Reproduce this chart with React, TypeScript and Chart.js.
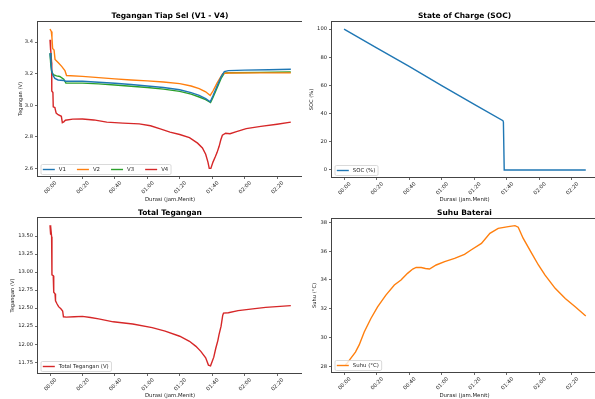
import React, { useEffect, useRef } from 'react';
import { Chart, registerables } from 'chart.js';
Chart.register(...registerables);

const FONT = "'DejaVu Sans', sans-serif";

// X axis: minutes since start, labelled as jam:menit
const xTickMinutes = [0, 20, 40, 60, 80, 100, 120, 140];
const xTickLabels = ['00:00', '00:20', '00:40', '01:00', '01:20', '01:40', '02:00', '02:20'];

// Cell voltages
const v1Time = [0, 0.5, 1.0, 1.8, 3, 5, 8.5, 9.5, 20, 30, 40, 50, 60, 70, 80, 87, 92, 96, 98.8, 100.5, 103, 105.5, 107.5, 110, 120, 135, 148.5];
const v1Vals = [3.33, 3.28, 3.22, 3.19, 3.17, 3.16, 3.157, 3.152, 3.152, 3.146, 3.139, 3.131, 3.122, 3.112, 3.098, 3.08, 3.062, 3.042, 3.022, 3.06, 3.12, 3.18, 3.213, 3.219, 3.222, 3.225, 3.228];

const v2Time = [0, 0.8, 1.2, 1.6, 2.5, 3.1, 5, 7.2, 9.2, 10.2, 20, 30, 40, 50, 60, 70, 80, 87, 92, 96, 98.8, 100.5, 103, 106.5, 110, 130, 148.5];
const v2Vals = [3.483, 3.467, 3.43, 3.36, 3.35, 3.29, 3.27, 3.246, 3.22, 3.188, 3.183, 3.175, 3.167, 3.16, 3.154, 3.147, 3.137, 3.122, 3.105, 3.085, 3.062, 3.09, 3.14, 3.2, 3.204, 3.205, 3.205];

const v3Time = [0, 0.5, 1.0, 2.0, 4, 6, 8.5, 9.8, 20, 30, 40, 50, 60, 70, 80, 87, 92, 96, 99, 100.5, 103, 105.5, 107.5, 110, 130, 148.5];
const v3Vals = [3.33, 3.253, 3.215, 3.194, 3.186, 3.182, 3.165, 3.141, 3.14, 3.135, 3.128, 3.12, 3.112, 3.102, 3.088, 3.07, 3.052, 3.035, 3.017, 3.05, 3.11, 3.17, 3.203, 3.206, 3.208, 3.21];

const v4Time = [0, 0.15, 0.35, 0.6, 1.0, 1.1, 1.8, 2.0, 3.0, 3.8, 5, 7, 7.6, 8.5, 9.5, 14, 20, 27, 35, 45, 55, 62, 68, 74, 80, 86, 91, 94, 96, 97.4, 98.2, 99.2, 100.5, 102, 103, 104.3, 105.3, 106.3, 108.3, 111, 115, 121, 130, 140, 148.5];
const v4Vals = [3.415, 3.35, 3.40, 3.36, 3.27, 3.09, 3.08, 2.99, 2.985, 2.95, 2.94, 2.93, 2.89, 2.895, 2.905, 2.912, 2.913, 2.907, 2.893, 2.887, 2.882, 2.87, 2.85, 2.83, 2.815, 2.795, 2.76, 2.73, 2.69, 2.64, 2.60, 2.60, 2.64, 2.675, 2.70, 2.74, 2.78, 2.81, 2.823, 2.82, 2.833, 2.852, 2.866, 2.88, 2.893];

// State of charge
const socTime = [0, 20, 40, 60, 80, 97.6, 97.9, 98.4, 110, 130, 148.5];
const socVals = [100, 86.7, 73.5, 59.8, 46.5, 35, 34, 0, 0, 0, 0];

// Total voltage
const totTime = [0, 0.3, 0.5, 1.0, 1.2, 2.0, 2.3, 3.1, 3.4, 4.3, 5.3, 6.7, 7.8, 8.3, 10, 15, 20, 25, 30, 39, 51, 63, 71, 80, 86, 90, 93, 96, 97.7, 99, 100, 101, 102.2, 103.5, 104.2, 105.5, 106.5, 107, 110, 116, 125, 133, 148.5];
const totVals = [13.65, 13.52, 13.63, 13.49, 12.96, 12.95, 12.72, 12.70, 12.60, 12.56, 12.52, 12.49, 12.46, 12.38, 12.375, 12.38, 12.385, 12.37, 12.35, 12.31, 12.28, 12.23, 12.18, 12.11, 12.04, 11.97, 11.90, 11.81, 11.71, 11.70, 11.76, 11.82, 11.94, 12.05, 12.13, 12.25, 12.40, 12.43, 12.435, 12.465, 12.49, 12.51, 12.535];

// Battery temperature
const suhuTime = [0.8, 2, 4, 7, 9.3, 12.4, 16.5, 20.6, 25.7, 30.9, 35, 39, 42.2, 44.3, 47.4, 50, 52.5, 56.6, 61.8, 67.9, 74, 78, 84.4, 89.6, 94.7, 100.9, 105, 107, 110, 115.3, 119.4, 123.5, 129.7, 135.9, 142, 148.5];
const suhuVals = [28.1, 28.25, 28.55, 29.0, 29.5, 30.4, 31.33, 32.14, 32.95, 33.65, 34.0, 34.46, 34.76, 34.87, 34.87, 34.8, 34.76, 35.04, 35.27, 35.5, 35.78, 36.08, 36.54, 37.24, 37.58, 37.7, 37.77, 37.66, 36.9, 35.85, 35.04, 34.34, 33.42, 32.72, 32.14, 31.5];

// Y ticks
const cellTicks = [2.6, 2.8, 3.0, 3.2, 3.4];
const cellTickLabels = ['2.6', '2.8', '3.0', '3.2', '3.4'];
const socTicks = [0, 20, 40, 60, 80, 100];
const socTickLabels = ['0', '20', '40', '60', '80', '100'];
const totTicks = [11.75, 12.0, 12.25, 12.5, 12.75, 13.0, 13.25, 13.5];
const totTickLabels = ['11.75', '12.00', '12.25', '12.50', '12.75', '13.00', '13.25', '13.50'];
const suhuTicks = [28, 30, 32, 34, 36, 38];
const suhuTickLabels = ['28', '30', '32', '34', '36', '38'];

const C_BLUE = '#1f77b4';
const C_ORANGE = '#ff7f0e';
const C_GREEN = '#2ca02c';
const C_RED = '#d62728';

type Series = { label: string; color: string; t: number[]; v: number[] };
type Spec = {
  left: number; top: number; w: number; h: number;
  padTop: number; yAxisW: number; xAxisH: number;
  yMin: number; yMax: number; yTicks: number[]; yTickLabels: string[];
  title: string; titleY: number;
  yTitle: string; yTitlePad: number; xTitlePad: number;
  series: Series[];
};

const pts = (t: number[], v: number[]) => t.map((x, i) => ({ x, y: v[i] }));

const specs: Spec[] = [
  {
    left: 0, top: 0, w: 302, h: 204, padTop: 22, yAxisW: 38, xAxisH: 28,
    yMin: 2.552, yMax: 3.527, yTicks: cellTicks, yTickLabels: cellTickLabels,
    title: 'Tegangan Tiap Sel (V1 - V4)', titleY: 15.7,
    yTitle: 'Tegangan (V)', yTitlePad: 17.5, xTitlePad: 1.3,
    series: [
      { label: 'V1', color: C_BLUE, t: v1Time, v: v1Vals },
      { label: 'V2', color: C_ORANGE, t: v2Time, v: v2Vals },
      { label: 'V3', color: C_GREEN, t: v3Time, v: v3Vals },
      { label: 'V4', color: C_RED, t: v4Time, v: v4Vals },
    ],
  },
  {
    left: 302, top: 0, w: 295, h: 204, padTop: 22, yAxisW: 30, xAxisH: 27,
    yMin: -5, yMax: 105, yTicks: socTicks, yTickLabels: socTickLabels,
    title: 'State of Charge (SOC)', titleY: 15.7,
    yTitle: 'SOC (%)', yTitlePad: 6.8, xTitlePad: 1.3,
    series: [{ label: 'SOC (%)', color: C_BLUE, t: socTime, v: socVals }],
  },
  {
    left: 0, top: 196, w: 302, h: 203, padTop: 22, yAxisW: 38, xAxisH: 26,
    yMin: 11.6, yMax: 13.75, yTicks: totTicks, yTickLabels: totTickLabels,
    title: 'Total Tegangan', titleY: 17.3,
    yTitle: 'Tegangan (V)', yTitlePad: 10, xTitlePad: 0,
    series: [{ label: 'Total Tegangan (V)', color: C_RED, t: totTime, v: totVals }],
  },
  {
    left: 302, top: 196, w: 295, h: 203, padTop: 23, yAxisW: 30, xAxisH: 27,
    yMin: 27.62, yMax: 38.23, yTicks: suhuTicks, yTickLabels: suhuTickLabels,
    title: 'Suhu Baterai', titleY: 17.3,
    yTitle: 'Suhu (°C)', yTitlePad: 9.8, xTitlePad: 0,
    series: [{ label: 'Suhu (°C)', color: C_ORANGE, t: suhuTime, v: suhuVals }],
  },
];

function decorPlugin(spec: Spec) {
  return {
    id: 'decor',
    afterDraw(chart: any) {
      const { ctx, chartArea: a } = chart;
      ctx.save();
      // frame
      ctx.strokeStyle = '#444';
      ctx.lineWidth = 1;
      const l = Math.round(a.left) - 0.5, t = Math.round(a.top) - 0.5;
      const r = Math.round(a.right) + 0.5, b = Math.round(a.bottom) + 0.5;
      ctx.strokeRect(l, t, r - l, b - t);
      // title
      ctx.fillStyle = '#000';
      ctx.font = `bold 7.5px ${FONT}`;
      ctx.textAlign = 'center';
      ctx.textBaseline = 'middle';
      ctx.fillText(spec.title, (a.left + a.right) / 2, spec.titleY);
      // legend
      ctx.font = `5.4px ${FONT}`;
      const handle = 12, textPad = 4, colSp = 11, padX = 2.3, boxH = 10;
      const widths = spec.series.map((s) => ctx.measureText(s.label).width);
      let w = padX * 2;
      widths.forEach((tw, i) => { w += handle + textPad + tw + (i > 0 ? colSp : 0); });
      const bx = a.left + 2.5, by = a.bottom - 2 - boxH;
      ctx.beginPath();
      if (ctx.roundRect) ctx.roundRect(bx + 0.5, by + 0.5, w, boxH, 1.5);
      else ctx.rect(bx + 0.5, by + 0.5, w, boxH);
      ctx.fillStyle = 'rgba(255,255,255,0.8)';
      ctx.fill();
      ctx.strokeStyle = '#d0d0d0';
      ctx.lineWidth = 0.8;
      ctx.stroke();
      let x = bx + padX;
      const cy = by + boxH / 2 + 0.5;
      spec.series.forEach((s, i) => {
        ctx.strokeStyle = s.color;
        ctx.lineWidth = 1.4;
        ctx.beginPath();
        ctx.moveTo(x, cy);
        ctx.lineTo(x + handle, cy);
        ctx.stroke();
        ctx.fillStyle = '#222';
        ctx.textAlign = 'left';
        ctx.textBaseline = 'middle';
        ctx.fillText(s.label, x + handle + textPad, cy);
        x += handle + textPad + widths[i] + colSp;
      });
      ctx.restore();
    },
  };
}

function makeConfig(spec: Spec): any {
  return {
    type: 'line',
    data: {
      datasets: spec.series.map((s) => ({
        label: s.label,
        data: pts(s.t, s.v),
        borderColor: s.color,
        backgroundColor: s.color,
        borderWidth: 1.4,
        pointRadius: 0,
        fill: false,
        tension: 0,
      })),
    },
    options: {
      responsive: false,
      animation: false,
      devicePixelRatio: 1,
      events: [],
      layout: { padding: { top: spec.padTop, left: 0, right: 0, bottom: 0 } },
      plugins: { legend: { display: false }, title: { display: false }, tooltip: { enabled: false } },
      scales: {
        x: {
          type: 'linear',
          min: -7.4,
          max: 155.4,
          afterBuildTicks: (s: any) => { s.ticks = xTickMinutes.map((v) => ({ value: v })); },
          afterFit: (s: any) => { s.height = spec.xAxisH; s.paddingLeft = 0; s.paddingRight = 0; },
          ticks: {
            autoSkip: false,
            minRotation: 45,
            maxRotation: 45,
            labelOffset: 6,
            padding: 1,
            color: '#222',
            font: { family: FONT, size: 5.3 },
            callback: (val: number) => {
              const i = xTickMinutes.indexOf(val);
              return i >= 0 ? xTickLabels[i] : '';
            },
          },
          grid: { drawOnChartArea: false, drawTicks: true, tickLength: 3, color: '#444', lineWidth: 0.8 },
          border: { display: false },
          title: {
            display: true, text: 'Durasi (jam.Menit)', color: '#222',
            font: { family: FONT, size: 5.4 }, padding: { top: 0, bottom: spec.xTitlePad },
          },
        },
        y: {
          type: 'linear',
          min: spec.yMin,
          max: spec.yMax,
          afterBuildTicks: (s: any) => { s.ticks = spec.yTicks.map((v) => ({ value: v })); },
          afterFit: (s: any) => { s.width = spec.yAxisW; s.paddingTop = 0; s.paddingBottom = 0; },
          ticks: {
            padding: 2,
            color: '#222',
            font: { family: FONT, size: 5.2 },
            callback: (val: number) => {
              const i = spec.yTicks.indexOf(val);
              return i >= 0 ? spec.yTickLabels[i] : '';
            },
          },
          grid: { drawOnChartArea: false, drawTicks: true, tickLength: 3, color: '#444', lineWidth: 0.8 },
          border: { display: false },
          title: {
            display: true, text: spec.yTitle, color: '#222',
            font: { family: FONT, size: 5.2 }, padding: { top: spec.yTitlePad, bottom: 0 },
          },
        },
      },
    },
    plugins: [decorPlugin(spec)],
  };
}

function Panel({ spec }: { spec: Spec }) {
  const ref = useRef<HTMLCanvasElement>(null);
  useEffect(() => {
    const chart = new Chart(ref.current as HTMLCanvasElement, makeConfig(spec));
    return () => chart.destroy();
  }, [spec]);
  return (
    <canvas
      ref={ref}
      width={spec.w}
      height={spec.h}
      style={{ position: 'absolute', left: spec.left, top: spec.top, width: spec.w, height: spec.h }}
    />
  );
}

export default function App() {
  return (
    <div style={{ position: 'fixed', left: 0, top: 0, width: 595, height: 399, overflow: 'hidden', background: '#fff' }}>
      {specs.map((s, i) => <Panel key={i} spec={s} />)}
    </div>
  );
}
